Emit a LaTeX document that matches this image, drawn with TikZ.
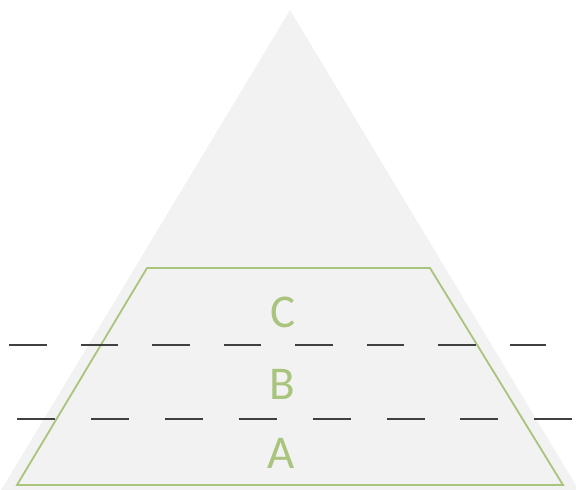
\documentclass[tikz,border=0pt]{standalone}
\usepackage{fontspec}
\setmainfont{Carlito}
\usepackage{tikz}
\usetikzlibrary{positioning, calc}
\definecolor{pyrgray}{RGB}{242,242,242}
\definecolor{pyrgreen}{RGB}{169,196,125}
\definecolor{darkgray}{RGB}{64,64,64}

\begin{document}
\begin{tikzpicture}[
      x=1pt, y=-1pt,
      level/.style    = {font=\fontsize{47}{47}\selectfont, text=pyrgreen, inner sep=0pt, anchor=base},
      outline/.style  = {draw=pyrgreen, line width=1.8pt, line join=miter},
      divider/.style  = {draw=darkgray, line width=1.6pt}
    ]
    \useasboundingbox (0,0) rectangle (576,490);

    % Pyramid
    \fill[pyrgray] (290,10) -- (580,492) -- (0,492) -- cycle;
    \draw[outline] (147,268) -- (430,268) -- (563,485) -- (17,485) -- cycle;

    % Nodes
    \node[level] (levC) at (283,327) {C};
    \node[level] (levB) at (282,399) {B};
    \node[level] (levA) at (281,468) {A};

    % Dividers
    \coordinate (upL) at (9,345);
    \coordinate (upR) at (546,345);
    \coordinate (loL) at (17,419);
    \coordinate (loR) at (572,419);
    \draw[divider, dash pattern=on 37.5pt off 34pt] (upL) -- (upR);
    \draw[divider, dash pattern=on 38pt off 35.9pt] (loL) -- (loR);

  \end{tikzpicture}
\end{document}
